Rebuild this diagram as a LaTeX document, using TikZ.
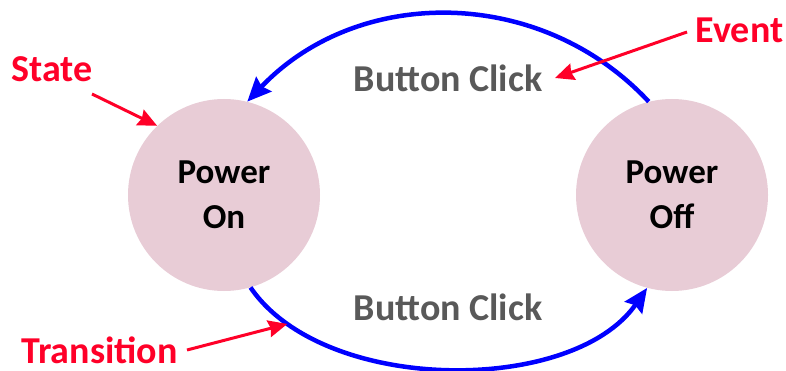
\documentclass[tikz,border=0pt]{standalone}
\usepackage{fontspec}
\setmainfont{Carlito}
\usetikzlibrary{arrows.meta}
\definecolor{redc}{RGB}{255,0,40}
\definecolor{pinkc}{RGB}{232,204,214}
\definecolor{grayc}{RGB}{89,89,89}
\definecolor{bluec}{RGB}{0,0,255}
\begin{document}
\begin{tikzpicture}[x=1pt,y=-1pt,
  statenode/.style={circle, fill=pinkc, minimum size=192pt, inner sep=0pt,
    font=\fontsize{35}{45}\selectfont\bfseries, align=center, text=black},
  lbl/.style={font=\fontsize{38}{44}\selectfont\bfseries, inner sep=0pt, anchor=base},
  evt/.style={lbl, text=grayc},
  note/.style={lbl, text=redc},
  trans/.style={draw=bluec, line width=4.5pt, -{Stealth[length=24pt,width=21pt,inset=3pt]}},
  pointer/.style={draw=redc, line width=3pt, -{Stealth[length=19pt,width=17pt,inset=2pt]}}]
\useasboundingbox (0,0) rectangle (786,371);
\node[statenode] (on) at (224,195) {Power\\On};
\node[statenode] (off) at (672,195) {Power\\Off};
\node[evt] (btop) at (448,92) {Button Click};
\node[evt] (bbot) at (448,320) {Button Click};
\node[note] (state) at (52,82) {State};
\node[note] (transition) at (99.5,363) {Transition};
\node[note] (event) at (739.5,43) {Event};
% transitions
\draw[trans] (off.104.6) .. controls (541,-14) and (358,-15) .. (on.76);
\draw[trans] (on.-74.4) .. controls (324,395) and (573,395) .. coordinate[pos=0.13] (tpt) (off.-105);
% pointers
\coordinate (statetail) at (92,94);
\coordinate (transtail) at (187,350);
\coordinate (eventtail) at (687,32);
\coordinate (eventtip) at (555,78);
\draw[pointer] (statetail) -- (on.134);
\draw[pointer] (transtail) -- (tpt);
\draw[pointer] (eventtail) -- (eventtip);
\end{tikzpicture}
\end{document}
